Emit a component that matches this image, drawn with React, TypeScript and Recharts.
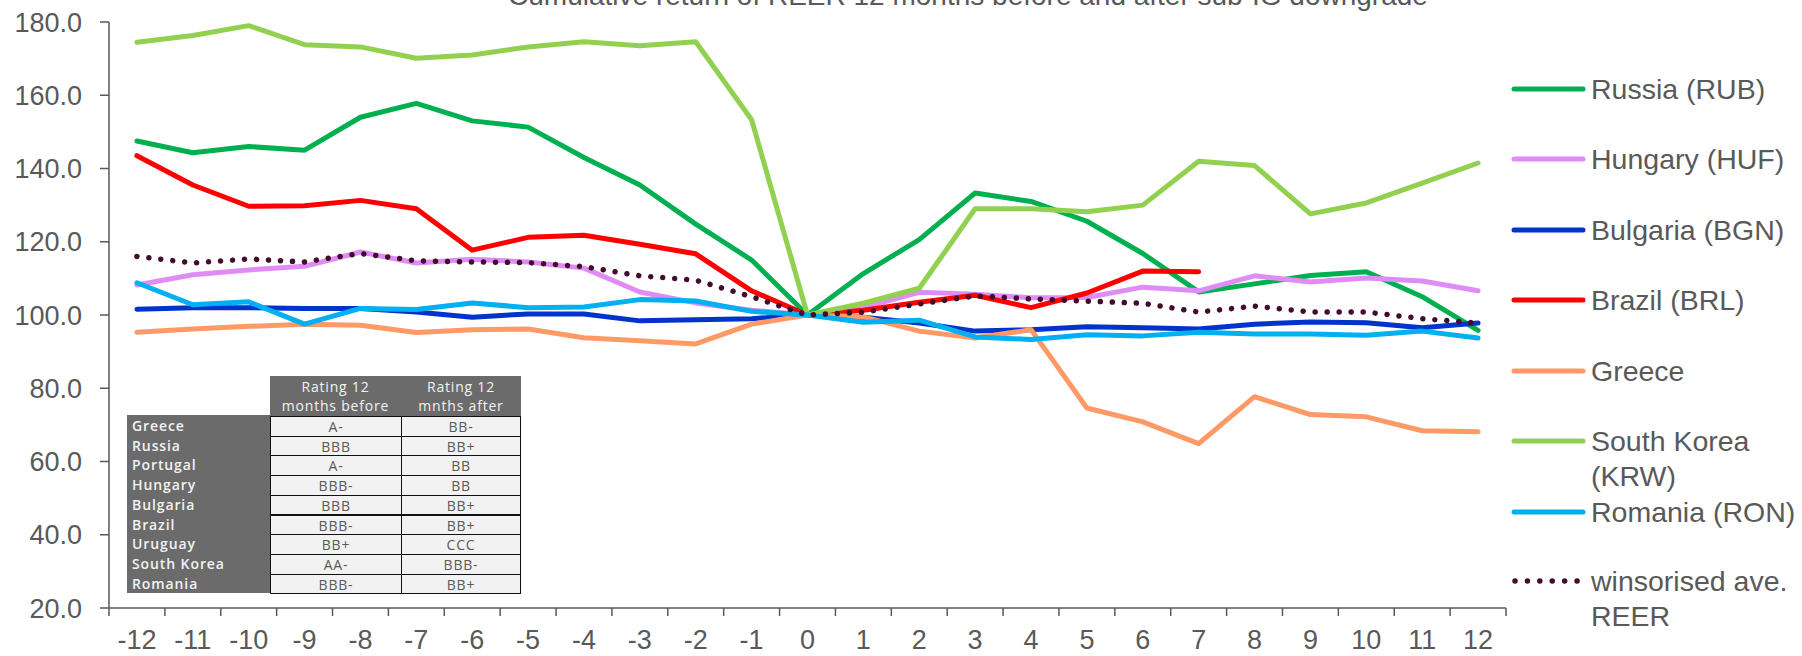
import React from "react";
import { LineChart, Line, XAxis, YAxis } from "recharts";

const months = [-12, -11, -10, -9, -8, -7, -6, -5, -4, -3, -2, -1, 0, 1, 2, 3, 4, 5, 6, 7, 8, 9, 10, 11, 12];
const xLabels = ["-12", "-11", "-10", "-9", "-8", "-7", "-6", "-5", "-4", "-3", "-2", "-1", "0", "1", "2", "3", "4", "5", "6", "7", "8", "9", "10", "11", "12"];
const yTicks = [20, 40, 60, 80, 100, 120, 140, 160, 180];

const russia = [147.5, 144.3, 146.0, 145.0, 154.0, 157.8, 153.0, 151.3, 143.0, 135.5, 124.8, 115.0, 100.0, 111.3, 120.6, 133.3, 131.0, 125.6, 116.8, 106.3, 108.5, 110.8, 111.8, 105.0, 95.8];
const hungary = [108.2, 111.0, 112.3, 113.3, 117.2, 114.2, 115.2, 114.5, 112.8, 106.3, 103.3, 101.3, 100.0, 102.0, 106.2, 105.7, 104.7, 104.8, 107.6, 106.6, 110.7, 109.0, 110.1, 109.3, 106.6];
const bulgaria = [101.6, 102.0, 102.0, 101.8, 101.8, 100.8, 99.4, 100.3, 100.3, 98.4, 98.7, 99.0, 100.0, 99.4, 97.8, 95.6, 96.0, 96.8, 96.5, 96.2, 97.5, 98.1, 97.9, 96.5, 97.8];
const brazil = [143.5, 135.5, 129.7, 129.8, 131.3, 129.0, 117.7, 121.2, 121.8, 119.3, 116.7, 106.6, 100.0, 101.3, 103.5, 105.4, 102.0, 106.0, 112.0, 111.8, null, null, null, null, null];
const greece = [95.3, 96.2, 96.9, 97.5, 97.2, 95.2, 96.0, 96.2, 93.8, 93.0, 92.1, 97.5, 100.0, 99.5, 95.6, 93.7, 96.0, 74.6, 70.8, 64.9, 77.7, 72.8, 72.2, 68.4, 68.1];
const southKorea = [174.5, 176.3, 179.0, 173.8, 173.2, 170.1, 171.0, 173.2, 174.6, 173.5, 174.6, 153.3, 100.0, 103.2, 107.3, 129.0, 129.0, 128.2, 130.0, 142.0, 140.8, 127.6, 130.6, 136.0, 141.5];
const romania = [108.8, 102.8, 103.6, 97.5, 101.8, 101.5, 103.3, 102.0, 102.2, 104.2, 103.8, 101.0, 100.0, 98.0, 98.6, 94.0, 93.3, 94.6, 94.3, 95.3, 94.8, 94.8, 94.5, 95.6, 93.7];
const winsorised = [116.0, 114.2, 115.3, 114.5, 116.8, 114.8, 114.5, 114.3, 113.2, 110.7, 109.5, 105.0, 100.0, 100.8, 103.0, 105.2, 104.4, 103.8, 103.2, 100.8, 102.4, 100.8, 100.8, 99.0, 97.8];

const series = [
  { key: "russia", name: ["Russia (RUB)"], color: "#00B050", values: russia },
  { key: "hungary", name: ["Hungary (HUF)"], color: "#E08CF6", values: hungary },
  { key: "bulgaria", name: ["Bulgaria (BGN)"], color: "#0033CC", values: bulgaria },
  { key: "brazil", name: ["Brazil (BRL)"], color: "#FF0000", values: brazil },
  { key: "greece", name: ["Greece"], color: "#FF9966", values: greece },
  { key: "southKorea", name: ["South Korea", "(KRW)"], color: "#92D050", values: southKorea },
  { key: "romania", name: ["Romania (RON)"], color: "#00B0F0", values: romania },
  { key: "winsorised", name: ["winsorised ave.", "REER"], color: "#420C2F", values: winsorised, dotted: true },
];

const tableCountries = ["Greece", "Russia", "Portugal", "Hungary", "Bulgaria", "Brazil", "Uruguay", "South Korea", "Romania"];
const ratingBefore = ["A-", "BBB", "A-", "BBB-", "BBB", "BBB-", "BB+", "AA-", "BBB-"];
const ratingAfter = ["BB-", "BB+", "BB", "BB", "BB+", "BB+", "CCC", "BBB-", "BB+"];
const tableHeaders = [["Rating 12", "months before"], ["Rating 12", "mnths after"]];

const data = months.map((m, i) => {
  const row: Record<string, number | null> = { m };
  series.forEach((s) => (row[s.key] = s.values[i]));
  return row;
});

const W = 1802;
const H = 656;
const PLOT_LEFT = 109;
const PLOT_RIGHT = 1506;
const STEP = (PLOT_RIGHT - PLOT_LEFT) / 25;
const GREY = "#595959";
const FONT = "'Liberation Sans', Arial, sans-serif";

const boundaryTicks = months.map((m) => m - 0.5).concat([12.5]);

function XTick(props: any) {
  const { x, y, index } = props;
  if (index >= xLabels.length) return null;
  return (
    <text x={x + STEP / 2} y={y} dy="0.71em" textAnchor="middle" fill={GREY} fontSize={27} fontFamily={FONT}>
      {xLabels[index]}
    </text>
  );
}

function LegendBox() {
  const top = [89, 159, 230, 300, 371, 441, 512, 581];
  return (
    <svg width={W} height={H} style={{ position: "absolute", left: 0, top: 0, pointerEvents: "none" }}>
      {series.map((s, i) => (
        <g key={s.key}>
          {s.dotted ? (
            <line x1={1515} y1={top[i]} x2={1580} y2={top[i]} stroke={s.color} strokeWidth={5.5} strokeLinecap="round" strokeDasharray="0.01 12.4" />
          ) : (
            <line x1={1514} y1={top[i]} x2={1583} y2={top[i]} stroke={s.color} strokeWidth={5} strokeLinecap="round" />
          )}
          {s.name.map((t, j) => (
            <text key={j} x={1591} y={top[i] + 10 + j * 35} fill={GREY} fontSize={28.5} fontFamily={FONT}>
              {t}
            </text>
          ))}
        </g>
      ))}
    </svg>
  );
}

function RatingTable() {
  const labelX = 127;
  const col1 = 270;
  const col2 = 401;
  const right = 521;
  const headTop = 376;
  const bodyTop = 416;
  const rowH = 19.7;
  const tf = "'Open Sans', sans-serif";
  const cellText: React.CSSProperties = {
    position: "absolute",
    fontFamily: tf,
    fontSize: 14,
    letterSpacing: 0.8,
    lineHeight: `${rowH}px`,
    textAlign: "center",
    color: GREY,
    boxSizing: "border-box",
    background: "#F2F2F2",
    border: "1px solid #111",
    whiteSpace: "nowrap",
  };
  return (
    <div style={{ position: "absolute", left: 0, top: 0 }}>
      <div style={{ position: "absolute", left: col1, top: headTop, width: right - col1, height: bodyTop - headTop, background: "#6B6B6B" }} />
      {tableHeaders.map((h, i) => (
        <div
          key={i}
          style={{
            position: "absolute",
            left: i === 0 ? col1 : col2,
            top: headTop + 1,
            width: i === 0 ? col2 - col1 : right - col2,
            textAlign: "center",
            fontFamily: tf,
            fontSize: 14,
            letterSpacing: 0.8,
            lineHeight: "19px",
            color: "#F2F2F2",
            whiteSpace: "nowrap",
          }}
        >
          {h[0]}
          <br />
          {h[1]}
        </div>
      ))}
      <div style={{ position: "absolute", left: labelX, top: bodyTop - 1, width: col1 - labelX, height: rowH * 9 + 1, background: "#6B6B6B" }} />
      {tableCountries.map((c, i) => (
        <React.Fragment key={c}>
          <div
            style={{
              position: "absolute",
              left: labelX + 5,
              top: bodyTop + i * rowH,
              height: rowH,
              lineHeight: `${rowH}px`,
              fontFamily: tf,
              fontSize: 14,
              fontWeight: 600,
              letterSpacing: 0.9,
              color: "#F2F2F2",
              whiteSpace: "nowrap",
            }}
          >
            {c}
          </div>
          <div style={{ ...cellText, left: col1, top: bodyTop + i * rowH, width: col2 - col1 + 1, height: rowH + 1 }}>{ratingBefore[i]}</div>
          <div style={{ ...cellText, left: col2, top: bodyTop + i * rowH, width: right - col2, height: rowH + 1 }}>{ratingAfter[i]}</div>
        </React.Fragment>
      ))}
    </div>
  );
}

export default function App() {
  return (
    <div style={{ position: "absolute", left: 0, top: 0, width: W, height: H, background: "#fff", overflow: "hidden" }}>
      <LineChart width={W} height={H} data={data} margin={{ top: 22, right: W - PLOT_RIGHT, bottom: 0, left: 0 }}>
        <text x={968} y={5} textAnchor="middle" fill={GREY} fontSize={28} fontFamily={FONT}>
          Cumulative return of REER 12 months before and after sub-IG downgrade
        </text>
        <XAxis
          dataKey="m"
          type="number"
          domain={[-12.5, 12.5]}
          ticks={boundaryTicks}
          interval={0}
          height={48}
          tickSize={8}
          tickMargin={14}
          tick={<XTick />}
          axisLine={{ stroke: GREY, strokeWidth: 1.5 }}
          tickLine={{ stroke: GREY, strokeWidth: 1.5 }}
        />
        <YAxis
          domain={[20, 180]}
          ticks={yTicks}
          width={PLOT_LEFT}
          interval={0}
          tickSize={9}
          tickMargin={18}
          tickFormatter={(v: number) => v.toFixed(1)}
          tick={{ fill: GREY, fontSize: 27, fontFamily: FONT }}
          axisLine={{ stroke: GREY, strokeWidth: 1.5 }}
          tickLine={{ stroke: GREY, strokeWidth: 1.5 }}
        />
        {series.map((s) => (
          <Line
            key={s.key}
            dataKey={s.key}
            type="linear"
            stroke={s.color}
            strokeWidth={s.dotted ? 5.5 : 5}
            strokeLinecap="round"
            strokeLinejoin="round"
            strokeDasharray={s.dotted ? "0.01 12" : undefined}
            dot={false}
            activeDot={false}
            isAnimationActive={false}
          />
        ))}
      </LineChart>
      <LegendBox />
      <RatingTable />
    </div>
  );
}
